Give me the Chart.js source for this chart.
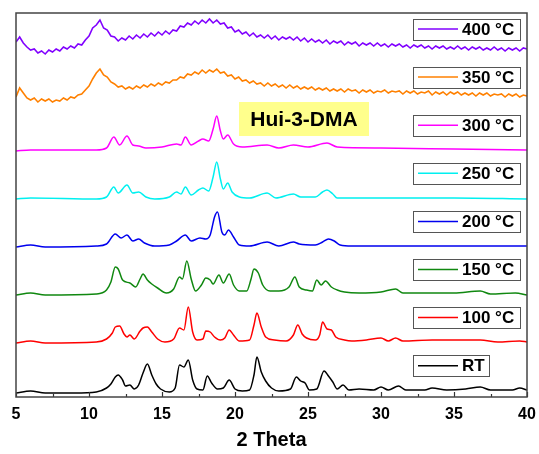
<!DOCTYPE html>
<html>
<head>
<meta charset="utf-8">
<script src="https://cdn.jsdelivr.net/npm/chart.js@4.4.1/dist/chart.umd.min.js"></script>
<style>
  html, body { margin: 0; padding: 0; background: #fff; }
  #wrap { width: 539px; height: 454px; position: relative; }
</style>
</head>
<body>
<div id="wrap"><canvas id="xrd" width="539" height="454"></canvas></div>
<script>
// x range and tick marks (2 Theta)
const xMin = 5, xMax = 40;
const majorTicks = [5, 10, 15, 20, 25, 30, 35, 40];
const minorTicks = [7.5, 12.5, 17.5, 22.5, 27.5, 32.5, 37.5];

// stacked patterns, heights already include the vertical offset (arb. units)
const rt = [[5,4],[6,6],[7,4],[9,4],[10.5,5],[11.2,9],[11.5,13],[11.8,20],[12.0,22],[12.3,17],[12.5,11],[12.8,12],[13.1,8],[13.4,12],[13.7,24],[14.0,33],[14.3,22],[14.6,13],[14.9,8],[15.5,5],[15.9,9],[16.2,32],[16.5,30],[16.8,37],[17.1,17],[17.4,8],[17.8,7],[18.1,21],[18.4,14],[18.8,8],[19.2,9],[19.6,17],[20.0,8],[20.5,6],[21.0,7],[21.3,22],[21.5,40],[21.8,25],[22.1,16],[22.5,9],[23,6],[23.8,8],[24.2,20],[24.5,16],[24.8,14],[25.1,7],[25.6,8],[26.1,26],[26.4,21],[26.7,15],[27.0,8],[27.4,12],[27.8,7],[28.5,8],[29.5,7],[30.0,10],[30.5,7],[31.2,11],[31.7,7],[33.0,7],[33.5,9],[34.5,7],[35.8,8],[36.8,10],[37.5,7],[39,7],[39.5,9],[40,7]];

const t100 = [[5,54],[6,56],[7,54],[10.5,55],[11.2,58],[11.6,64],[11.8,70],[12.1,71],[12.4,63],[12.6,60],[12.8,62],[13.1,58],[13.5,66],[13.7,69],[14.0,70],[14.3,65],[14.7,58],[15.2,55],[15.8,58],[16.2,69],[16.5,67],[16.8,90],[17.1,65],[17.4,57],[17.8,58],[18.0,66],[18.3,65],[18.6,60],[19.0,57],[19.3,59],[19.6,67],[19.9,62],[20.3,56],[21.0,57],[21.3,72],[21.5,84],[21.8,70],[22.1,60],[22.7,57],[23.5,56],[24.0,62],[24.3,72],[24.6,63],[24.9,59],[25.5,57],[25.8,62],[26.0,75],[26.3,68],[26.6,67],[26.9,60],[27.5,57],[28,56],[29,57],[30.0,59],[30.5,56],[31.0,59],[31.5,56],[33.5,57],[35.5,57],[36.8,57],[38,55],[39.5,56],[40,55]];

const t150 = [[5,102],[6,104],[7,102],[10.5,103],[11.2,107],[11.5,115],[11.8,130],[12.0,128],[12.3,117],[12.8,114],[13.2,110],[13.5,118],[13.7,123],[14.0,117],[14.3,113],[14.7,109],[15.3,104],[15.8,108],[16.2,120],[16.4,118],[16.7,136],[17.0,118],[17.3,106],[17.7,112],[18.0,119],[18.3,117],[18.5,113],[18.9,122],[19.2,114],[19.6,123],[19.9,112],[20.3,106],[20.8,106],[21.1,118],[21.3,128],[21.6,124],[21.9,112],[22.4,106],[23.0,106],[23.7,110],[24.1,120],[24.4,110],[24.9,107],[25.3,106],[25.6,117],[25.9,112],[26.2,116],[26.6,110],[27.0,107],[27.5,105],[28.5,104],[30,105],[31.0,108],[31.5,104],[33,104],[35,104],[36.8,106],[37.5,103],[39.2,104],[40,102]];

const t200 = [[5,150],[6,152],[7,150],[10.5,151],[11.2,153],[11.8,163],[12.2,159],[12.6,162],[13.0,156],[13.4,158],[13.8,154],[14.5,151],[15.5,152],[16.0,156],[16.6,162],[17.0,156],[17.6,159],[18.0,158],[18.3,162],[18.6,180],[18.8,185],[19.1,165],[19.3,162],[19.55,167],[19.9,160],[20.3,152],[21,151],[22.2,155],[23,151],[24.0,155],[24.4,153],[25.5,152],[26.0,155],[26.4,158],[26.8,156],[27.2,152],[28,151],[30,151],[33,151],[36,151],[40,151]];

const t250 = [[5,198],[6,199],[10.5,198],[11.2,200],[11.7,210],[12.0,204],[12.6,212],[13.0,204],[13.4,205],[13.9,200],[14.5,198],[15.5,200],[16.0,205],[16.3,203],[16.6,210],[17.0,202],[17.5,207],[17.8,209],[18.2,206],[18.5,220],[18.75,235],[19.0,218],[19.2,208],[19.5,214],[19.8,205],[20.3,200],[21,199],[22.2,204],[22.8,199],[24,203],[24.5,200],[25.5,200],[26.0,205],[26.3,207],[26.7,203],[27,199],[28,199],[30,199],[35,199],[40,198]];

const t300 = [[5,246],[6,247],[10.5,247],[11.2,249],[11.7,260],[12.1,252],[12.6,261],[13.0,252],[13.4,251],[13.9,249],[15,250],[16.0,253],[16.3,252],[16.6,260],[17.0,252],[17.5,256],[17.8,258],[18.2,256],[18.5,268],[18.75,281],[19.0,266],[19.2,258],[19.5,262],[19.9,253],[20.5,250],[22.2,252],[23,249],[24,252],[25,250],[26.3,254],[27,250],[30,249],[35,248],[40,247]];

// broad (amorphous) patterns, one value every 0.25 degree from 5 to 40
const step = 0.25;
const t350 = [
  300, 309, 304, 299,
  297, 299, 295, 298,
  296, 298, 295, 297,
  296, 299, 297, 300,
  299, 302, 303, 307,
  311, 318, 324, 328,
  322, 320, 315, 313,
  310, 311, 308, 310,
  308, 311, 309, 312,
  310, 313, 311, 314,
  312, 315, 314, 317,
  317, 320, 319, 323,
  322, 325, 323, 327,
  324, 327, 325, 328,
  324, 325, 321, 322,
  318, 320, 316, 317,
  314, 316, 313, 314,
  311, 314, 311, 313,
  310, 312, 309, 312,
  309, 311, 308, 310,
  308, 310, 307, 309,
  307, 309, 306, 308,
  306, 308, 305, 308,
  306, 307, 304, 307,
  305, 307, 304, 306,
  305, 307, 304, 306,
  305, 306, 303, 306,
  304, 306, 303, 305,
  304, 306, 302, 305,
  303, 305, 302, 305,
  303, 305, 302, 304,
  302, 304, 301, 304,
  302, 304, 301, 303,
  302, 303, 300, 303,
  301, 303, 300, 302,
  301
];
const t400 = [
  355, 360, 354, 350,
  347, 348, 344, 346,
  343, 347, 345, 348,
  346, 350, 348, 351,
  349, 353, 352, 357,
  361, 369, 372, 377,
  369, 367, 361, 360,
  356, 359, 357, 361,
  358, 362, 359, 363,
  360, 364, 361, 365,
  362, 366, 363, 367,
  366, 371, 370, 374,
  372, 376, 373, 377,
  374, 378, 374, 377,
  373, 374, 369, 370,
  365, 367, 363, 365,
  361, 364, 360, 362,
  359, 362, 358, 361,
  357, 360, 358, 360,
  357, 360, 356, 359,
  355, 358, 355, 357,
  354, 357, 353, 356,
  354, 356, 352, 355,
  353, 355, 351, 354,
  352, 354, 351, 354,
  351, 353, 350, 353,
  351, 353, 350, 352,
  349, 352, 350, 352,
  349, 351, 348, 351,
  349, 351, 348, 350,
  348, 351, 348, 350,
  347, 350, 348, 350,
  347, 349, 347, 350,
  347, 349, 346, 349,
  347, 349, 346, 349,
  348
];

const labels = ['400 °C', '350 °C', '300 °C', '250 °C', '200 °C', '150 °C', '100 °C', 'RT'];
const colors = ['#8000ff', '#ff8000', '#ff00ff', '#00f0f0', '#0000ee', '#108810', '#ff0000', '#000000'];

const pairs = (arr) => arr.map(([x, y]) => ({ x, y }));
const stepped = (arr) => arr.map((y, i) => ({ x: xMin + i * step, y }));

const seriesData = [stepped(t400), stepped(t350), pairs(t300), pairs(t250), pairs(t200), pairs(t150), pairs(t100), pairs(rt)];

const FONT = '"Liberation Sans", Arial, sans-serif';

// frame, inward ticks, boxed legend and sample label
const decorations = {
    id: 'decorations',
    afterDatasetsDraw(chart) {
        const { ctx, chartArea: a, scales: { x } } = chart;
        ctx.save();

        // ticks pointing inward from the bottom axis
        ctx.strokeStyle = '#333';
        ctx.lineWidth = 1.2;
        majorTicks.forEach(v => {
            const px = Math.round(x.getPixelForValue(v)) + 0.5;
            ctx.beginPath(); ctx.moveTo(px, a.bottom); ctx.lineTo(px, a.bottom - 5); ctx.stroke();
        });
        minorTicks.forEach(v => {
            const px = Math.round(x.getPixelForValue(v)) + 0.5;
            ctx.beginPath(); ctx.moveTo(px, a.bottom); ctx.lineTo(px, a.bottom - 3); ctx.stroke();
        });

        // frame
        ctx.strokeStyle = '#444';
        ctx.lineWidth = 1.5;
        ctx.strokeRect(a.left, a.top, a.right - a.left, a.bottom - a.top);

        // sample label
        ctx.fillStyle = '#ffff8c';
        ctx.fillRect(239, 102, 130, 34);
        ctx.fillStyle = '#000';
        ctx.font = 'bold 21px ' + FONT;
        ctx.textAlign = 'center';
        ctx.textBaseline = 'middle';
        ctx.fillText('Hui-3-DMA', 304, 120);

        // one legend box per pattern
        ctx.font = 'bold 17px ' + FONT;
        ctx.textAlign = 'left';
        labels.forEach((lab, i) => {
            const cy = 29 + i * 48.1;
            const bx = 413, bw = lab === 'RT' ? 76 : 107, bh = 21;
            ctx.fillStyle = '#fff';
            ctx.fillRect(bx, cy - bh / 2, bw, bh);
            ctx.strokeStyle = '#555';
            ctx.lineWidth = 1;
            ctx.strokeRect(bx + 0.5, Math.round(cy - bh / 2) + 0.5, bw, bh);
            ctx.strokeStyle = colors[i];
            ctx.lineWidth = 1.5;
            ctx.beginPath(); ctx.moveTo(418, cy); ctx.lineTo(458, cy); ctx.stroke();
            ctx.fillStyle = '#000';
            ctx.fillText(lab, 462, cy + 1);
        });
        ctx.restore();
    }
};

new Chart(document.getElementById('xrd'), {
    type: 'line',
    data: {
        datasets: seriesData.map((d, i) => ({
            label: labels[i],
            data: d,
            borderColor: colors[i],
            borderWidth: i < 2 ? 1.6 : 1.5,
            pointRadius: 0,
            cubicInterpolationMode: i < 2 ? 'default' : 'monotone',
            tension: 0,
            fill: false,
        })),
    },
    options: {
        responsive: false,
        animation: false,
        layout: { padding: { left: 16, right: 12, top: 13, bottom: 0 } },
        plugins: { legend: { display: false }, tooltip: { enabled: false } },
        scales: {
            x: {
                type: 'linear',
                min: xMin,
                max: xMax,
                afterBuildTicks: (s) => { s.ticks = majorTicks.map(v => ({ value: v })); },
                afterFit: (s) => { s.height = 57; s.paddingLeft = 0; s.paddingRight = 0; },
                grid: { display: false, drawTicks: false },
                border: { display: false },
                ticks: { color: '#000', padding: 8, maxRotation: 0, font: { family: FONT, size: 16, weight: 'bold' } },
                title: { display: true, text: '2 Theta', color: '#000', padding: { top: 0, bottom: 2 }, font: { family: FONT, size: 20, weight: 'bold' } },
            },
            y: {
                display: false,
                min: 0,
                max: 384,
            },
        },
    },
    plugins: [decorations],
});
</script>
</body>
</html>
